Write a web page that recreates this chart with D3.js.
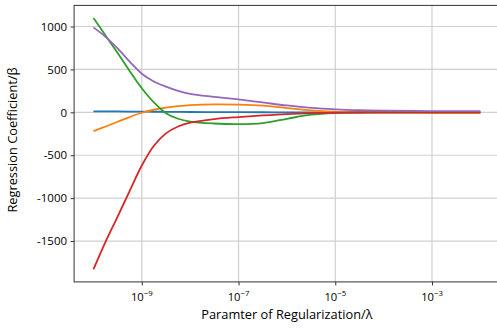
<!DOCTYPE html>
<html>
<head>
<meta charset="utf-8">
<script src="https://cdn.jsdelivr.net/npm/d3@7"></script>
<style>
  body { margin: 0; background: #fff; }
  text { font-family: "Open Sans", "Noto Sans", sans-serif; fill: #000; }
</style>
</head>
<body>
<div id="chart"></div>
<script>
// log10 of the regularization parameter at each sample
const logAlpha = [-10, -9.75, -9.5, -9.25, -9, -8.75, -8.5, -8.25, -8, -7.5, -7, -6.5, -6, -5.5, -5, -4.5, -4, -3, -2];

// coefficients
const coef0 = [12, 11, 10, 9, 8, 7, 6, 5, 4, 3, 2, 1, 0, 0, -1, -1, -1, -1, -1];
const coef1 = [-218, -165, -110, -55, -5, 30, 55, 72, 84, 93, 90, 78, 50, 22, 6, 0, -3, -5, -5];
const coef2 = [1100, 895, 690, 480, 280, 115, -10, -75, -108, -130, -137, -125, -75, -28, -8, -3, -1, 0, 0];
const coef3 = [-1830, -1510, -1215, -915, -620, -390, -245, -165, -120, -78, -55, -36, -20, -10, -5, -2, 0, 0, 0];
const coef4 = [990, 880, 745, 590, 450, 360, 300, 250, 215, 180, 150, 115, 80, 52, 35, 25, 20, 15, 15];

const series = [coef0, coef1, coef2, coef3, coef4];
const colors = ['#1f77b4', '#ff7f0e', '#2ca02c', '#d62728', '#9467bd'];

const yTicks = [-1500, -1000, -500, 0, 500, 1000];
const xTickExp = [-9, -7, -5, -3];

const width = 497, height = 333;
const mLeft = 74.1, mRight = 499.7, mTop = 5.4, mBottom = 281.9;

const svg = d3.select('#chart').append('svg')
  .attr('width', width)
  .attr('height', height);

const x = d3.scaleLog()
  .domain([Math.pow(10, -10.4), Math.pow(10, -1.6)])
  .range([mLeft, mRight]);

const y = d3.scaleLinear()
  .domain([-1976, 1246])
  .range([mBottom, mTop]);

// grid
const grid = svg.append('g');
grid.selectAll('.gx')
  .data(xTickExp)
  .enter().append('line')
  .attr('x1', d => x(Math.pow(10, d))).attr('x2', d => x(Math.pow(10, d)))
  .attr('y1', mTop).attr('y2', mBottom)
  .attr('stroke', '#d0d0d0').attr('stroke-width', 1.2);
grid.selectAll('.gy')
  .data(yTicks)
  .enter().append('line')
  .attr('x1', mLeft).attr('x2', mRight)
  .attr('y1', d => y(d)).attr('y2', d => y(d))
  .attr('stroke', '#d0d0d0').attr('stroke-width', 1.2);

// lines
const line = d3.line()
  .x((d, i) => x(Math.pow(10, logAlpha[i])))
  .y(d => y(d))
  .curve(d3.curveCatmullRom.alpha(0.5));

svg.append('g').selectAll('path')
  .data(series)
  .enter().append('path')
  .attr('d', d => line(d))
  .attr('fill', 'none')
  .attr('stroke', (d, i) => colors[i])
  .attr('stroke-width', 1.8);

// axes
const yAxis = d3.axisLeft(y)
  .tickValues(yTicks)
  .tickSize(3.5)
  .tickPadding(3.5)
  .tickFormat(d => String(d));

const gy = svg.append('g')
  .attr('transform', `translate(${mLeft},0)`)
  .call(yAxis);
gy.select('.domain').remove();
gy.selectAll('line').attr('stroke', '#333');
gy.selectAll('text').attr('font-size', 11.5).style('font-family', '"Open Sans", sans-serif');

const xAxis = d3.axisBottom(x)
  .tickValues(xTickExp.map(e => Math.pow(10, e)))
  .tickSize(3.5)
  .tickFormat('');

const gx = svg.append('g')
  .attr('transform', `translate(0,${mBottom})`)
  .call(xAxis);
gx.select('.domain').remove();
gx.selectAll('line').attr('stroke', '#333');

// superscript tick labels
const xl = svg.append('g').selectAll('text')
  .data(xTickExp)
  .enter().append('text')
  .attr('x', d => x(Math.pow(10, d)))
  .attr('y', 301)
  .attr('text-anchor', 'middle')
  .attr('font-size', 11.2);
xl.append('tspan').text('10');
xl.append('tspan')
  .attr('dy', -4.6)
  .attr('font-size', 7.8)
  .text(d => '\u2212' + Math.abs(d));

// spines
svg.append('rect')
  .attr('x', mLeft).attr('y', mTop)
  .attr('width', mRight - mLeft).attr('height', mBottom - mTop)
  .attr('fill', 'none')
  .attr('stroke', '#333')
  .attr('stroke-width', 1);

// axis labels
svg.append('text')
  .attr('x', (mLeft + mRight) / 2)
  .attr('y', 318.5)
  .attr('text-anchor', 'middle')
  .attr('font-size', 12.8)
  .text('Paramter of Regularization/\u03bb');

svg.append('text')
  .attr('transform', 'translate(16.8,140) rotate(-90)')
  .attr('text-anchor', 'middle')
  .attr('font-size', 12.8)
  .text('Regression Coefficient/\u03b2');
</script>
</body>
</html>
